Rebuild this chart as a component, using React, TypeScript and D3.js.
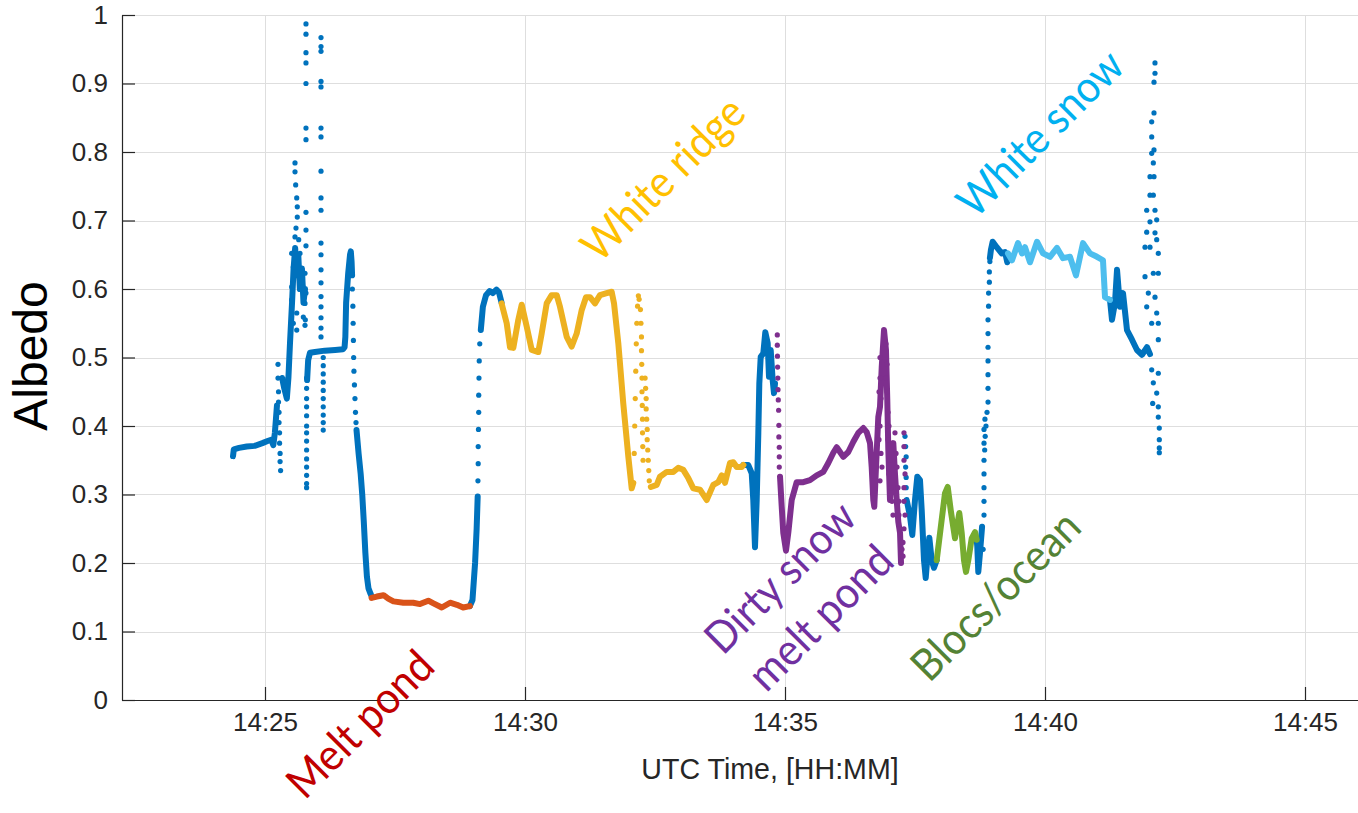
import { useEffect, useRef } from 'react'
import * as d3 from 'd3'

// ─── Types ────────────────────────────────────────────────────────────────────

// [minutes after 14:00 UTC, albedo]
type Pt = [number, number]

// ─── Layout ───────────────────────────────────────────────────────────────────

const WIDTH = 1358
const HEIGHT = 813
const PLOT = { left: 122, right: 1418, top: 15, bottom: 700 } // right edge runs past the crop
const X_DOMAIN: [number, number] = [22.25, 47.173]

const AXIS = '#262626'
const GRID = '#dedede'
const AXIS_FONT = '"Liberation Sans", Arial, Helvetica, sans-serif'
const NOTE_FONT = 'Lato, "Open Sans", sans-serif'

const C_BLUE = '#0072BD'
const C_ORANGE = '#D95319'
const C_YELLOW = '#EDB120'
const C_PURPLE = '#7E2F8E'
const C_GREEN = '#77AC30'
const C_LIGHT = '#4DBEEE'

// ─── Ticks ────────────────────────────────────────────────────────────────────

const timeTicks = [25, 30, 35, 40, 45]
const albedoTicks = [0, 0.1, 0.2, 0.3, 0.4, 0.5, 0.6, 0.7, 0.8, 0.9, 1]

// ─── Data: blue (unclassified) ────────────────────────────────────────────────

const blueTraces: Pt[][] = [
  [[24.385, 0.356], [24.40, 0.366], [24.50, 0.368], [24.65, 0.370], [24.80, 0.371], [24.95, 0.375],
   [25.05, 0.378], [25.12, 0.380], [25.16, 0.372], [25.19, 0.39], [25.21, 0.41], [25.23, 0.43]],
  [[25.33, 0.47], [25.37, 0.455], [25.42, 0.44], [25.45, 0.47], [25.48, 0.52], [25.52, 0.58],
   [25.55, 0.63], [25.58, 0.66], [25.61, 0.62], [25.64, 0.65], [25.67, 0.60], [25.71, 0.63],
   [25.74, 0.58], [25.77, 0.60]],
  [[25.81, 0.467], [25.83, 0.496], [25.865, 0.507], [25.96, 0.508], [26.15, 0.510], [26.35, 0.511],
   [26.50, 0.512], [26.53, 0.515], [26.545, 0.53], [26.56, 0.58], [26.60, 0.623], [26.635, 0.65],
   [26.65, 0.655], [26.665, 0.64], [26.675, 0.62]],
  [[26.76, 0.394], [26.80, 0.36], [26.84, 0.33], [26.87, 0.30], [26.90, 0.26], [26.93, 0.215],
   [26.96, 0.18], [26.99, 0.163], [27.03, 0.155], [27.06, 0.150]],
  [[28.94, 0.137], [28.99, 0.146], [29.04, 0.20], [29.07, 0.25], [29.09, 0.297]],
  [[29.15, 0.54], [29.19, 0.574], [29.25, 0.591], [29.32, 0.597], [29.38, 0.594], [29.45, 0.599],
   [29.50, 0.595], [29.55, 0.58]],
  [[34.198, 0.343], [34.294, 0.343], [34.36, 0.331], [34.39, 0.292], [34.423, 0.223], [34.456, 0.292],
   [34.487, 0.39], [34.506, 0.462], [34.533, 0.501], [34.583, 0.506], [34.621, 0.537], [34.667, 0.521],
   [34.692, 0.472], [34.725, 0.511], [34.763, 0.467], [34.788, 0.448], [34.808, 0.462]],
  [[37.34, 0.292], [37.404, 0.268], [37.448, 0.241], [37.5, 0.292], [37.544, 0.326], [37.596, 0.321],
   [37.629, 0.277], [37.673, 0.204], [37.706, 0.178], [37.744, 0.214], [37.775, 0.237], [37.821, 0.204],
   [37.865, 0.193], [37.917, 0.204]],
  [[38.687, 0.234], [38.698, 0.224], [38.717, 0.187], [38.75, 0.215], [38.79, 0.253]],
  [[38.94, 0.645], [38.96, 0.657], [38.994, 0.669], [39.071, 0.661], [39.167, 0.652], [39.231, 0.654],
   [39.275, 0.639], [39.313, 0.647]],
  [[41.25, 0.584], [41.288, 0.555], [41.346, 0.58], [41.385, 0.628], [41.442, 0.574], [41.5, 0.594],
   [41.577, 0.54], [41.673, 0.526], [41.769, 0.511], [41.865, 0.504], [41.962, 0.515], [42.019, 0.505]],
]

const blueDots: Pt[] = [
  // 14:25:15 column
  [25.25, 0.49], [25.25, 0.47], [25.26, 0.45], [25.26, 0.435], [25.27, 0.42], [25.27, 0.405],
  [25.28, 0.39], [25.28, 0.375], [25.29, 0.36], [25.29, 0.348], [25.30, 0.335],
  // scatter around first peak
  [25.577, 0.784], [25.577, 0.771], [25.59, 0.752], [25.61, 0.733], [25.621, 0.72], [25.621, 0.705],
  [25.596, 0.689], [25.577, 0.676], [25.648, 0.672], [25.513, 0.652], [25.673, 0.652], [25.544, 0.632],
  [25.706, 0.623], [25.769, 0.623], [25.513, 0.603], [25.731, 0.603], [25.788, 0.594], [25.769, 0.579],
  [25.513, 0.584], [25.61, 0.565], [25.737, 0.559], [25.544, 0.55], [25.769, 0.547], [25.61, 0.54],
  [25.775, 0.555],
  // spike column 1
  [25.788, 0.987], [25.788, 0.972], [25.788, 0.945], [25.788, 0.93], [25.788, 0.90], [25.788, 0.835],
  [25.788, 0.818], [25.788, 0.712], [25.788, 0.686], [25.788, 0.663],
  [25.80, 0.47], [25.80, 0.455], [25.80, 0.44], [25.80, 0.428], [25.80, 0.415], [25.80, 0.40],
  [25.80, 0.39], [25.80, 0.378], [25.80, 0.365], [25.80, 0.352], [25.80, 0.34], [25.80, 0.328],
  [25.80, 0.316], [25.80, 0.31],
  // spike column 2
  [26.077, 0.967], [26.077, 0.954], [26.077, 0.947], [26.077, 0.903], [26.077, 0.895], [26.077, 0.835],
  [26.077, 0.822], [26.077, 0.772], [26.077, 0.733], [26.077, 0.715], [26.077, 0.667], [26.077, 0.65],
  [26.077, 0.628], [26.077, 0.609], [26.077, 0.589], [26.077, 0.574], [26.077, 0.558], [26.077, 0.543],
  [26.077, 0.53],
  [26.12, 0.50], [26.12, 0.488], [26.12, 0.476], [26.12, 0.464], [26.12, 0.452], [26.12, 0.44],
  [26.12, 0.428], [26.12, 0.416], [26.12, 0.405], [26.12, 0.394],
  // fall after 14:26:40
  [26.68, 0.60], [26.69, 0.575], [26.695, 0.55], [26.70, 0.525], [26.705, 0.50], [26.71, 0.48],
  [26.72, 0.46], [26.73, 0.44], [26.74, 0.42], [26.75, 0.405],
  // rise at 14:29
  [29.095, 0.32], [29.10, 0.345], [29.10, 0.37], [29.105, 0.395], [29.11, 0.42], [29.11, 0.445],
  [29.115, 0.47], [29.12, 0.495], [29.13, 0.52],
  // column at 14:37:20
  [37.308, 0.385], [37.32, 0.37], [37.33, 0.355], [37.32, 0.34], [37.33, 0.325], [37.33, 0.31],
  // rise at 14:39
  [38.81, 0.22], [38.827, 0.27], [38.827, 0.29], [38.827, 0.31], [38.827, 0.33], [38.827, 0.35],
  [38.84, 0.365], [38.827, 0.375], [38.85, 0.385], [38.827, 0.395], [38.865, 0.40], [38.845, 0.41],
  [38.885, 0.42], [38.904, 0.435], [38.904, 0.455], [38.904, 0.475], [38.904, 0.495], [38.904, 0.515],
  [38.904, 0.535], [38.904, 0.555], [38.915, 0.575], [38.915, 0.594], [38.93, 0.61], [38.93, 0.625],
  [38.94, 0.64],
  // final column 14:42
  [42.115, 0.93], [42.115, 0.915], [42.096, 0.902], [42.096, 0.857], [42.052, 0.844], [42.052, 0.822],
  [42.096, 0.803], [42.052, 0.798], [42.083, 0.784], [42.019, 0.764], [42.096, 0.764], [42.019, 0.737],
  [42.083, 0.737], [41.956, 0.715], [42.115, 0.715], [42.019, 0.698], [42.148, 0.701], [41.956, 0.683],
  [42.115, 0.682], [42.148, 0.672], [41.923, 0.661], [42.019, 0.661], [42.179, 0.652], [41.923, 0.618],
  [42.083, 0.623], [42.179, 0.623], [41.987, 0.594], [42.115, 0.588], [41.956, 0.574], [42.148, 0.565],
  [42.052, 0.55], [42.179, 0.55], [42.179, 0.526], [42.052, 0.482], [42.179, 0.477], [42.083, 0.463],
  [42.148, 0.448], [42.071, 0.433], [42.179, 0.428], [42.179, 0.413], [42.198, 0.397], [42.198, 0.38],
  [42.198, 0.368], [42.198, 0.361],
]

// ─── Data: classified segments ────────────────────────────────────────────────

const meltPond: Pt[] = [
  [27.05, 0.149], [27.15, 0.151], [27.28, 0.153], [27.37, 0.148], [27.47, 0.144], [27.66, 0.142],
  [27.85, 0.142], [27.98, 0.140], [28.14, 0.145], [28.24, 0.141], [28.40, 0.135], [28.56, 0.142],
  [28.69, 0.139], [28.81, 0.135], [28.94, 0.137],
]

const whiteRidgeTraces: Pt[][] = [
  [[29.55, 0.579], [29.648, 0.55], [29.712, 0.515], [29.775, 0.514], [29.871, 0.555], [29.937, 0.577],
   [30.033, 0.545], [30.129, 0.511], [30.256, 0.508], [30.321, 0.535], [30.417, 0.579], [30.513, 0.591],
   [30.61, 0.591], [30.673, 0.574], [30.802, 0.53], [30.898, 0.516], [30.994, 0.535], [31.09, 0.569],
   [31.173, 0.588], [31.25, 0.588], [31.346, 0.579], [31.442, 0.591], [31.571, 0.594], [31.667, 0.596],
   [31.712, 0.579], [31.794, 0.521], [31.89, 0.433], [31.987, 0.355], [32.052, 0.309], [32.083, 0.317]],
  [[32.42, 0.311], [32.533, 0.314], [32.596, 0.326], [32.725, 0.333], [32.852, 0.333], [32.948, 0.339],
   [33.044, 0.336], [33.14, 0.324], [33.237, 0.309], [33.365, 0.307], [33.494, 0.292], [33.621, 0.314],
   [33.717, 0.318], [33.783, 0.328], [33.846, 0.317], [33.942, 0.346], [34.006, 0.347], [34.071, 0.34],
   [34.167, 0.34], [34.20, 0.343]],
]

const whiteRidgeDots: Pt[] = [
  [32.10, 0.36], [32.11, 0.40], [32.12, 0.44], [32.13, 0.48], [32.14, 0.52], [32.15, 0.55],
  [32.165, 0.575], [32.18, 0.59], [32.195, 0.585],
  [32.22, 0.57], [32.23, 0.55], [32.24, 0.53], [32.24, 0.51], [32.245, 0.49], [32.25, 0.47],
  [32.25, 0.45], [32.255, 0.43], [32.26, 0.41], [32.26, 0.39], [32.265, 0.37], [32.27, 0.35],
  [32.31, 0.47], [32.32, 0.455], [32.33, 0.44], [32.33, 0.425], [32.34, 0.41], [32.35, 0.395],
  [32.35, 0.38], [32.36, 0.365], [32.37, 0.35], [32.38, 0.335], [32.39, 0.32],
]

const dirtySnow: Pt[] = [
  [34.904, 0.326], [34.937, 0.282], [34.967, 0.244], [35.019, 0.218], [35.063, 0.244], [35.129, 0.292],
  [35.225, 0.318], [35.352, 0.318], [35.481, 0.321], [35.61, 0.328], [35.737, 0.333], [35.833, 0.346],
  [35.929, 0.361], [35.994, 0.369], [36.058, 0.362], [36.121, 0.355], [36.217, 0.362], [36.314, 0.377],
  [36.41, 0.39], [36.506, 0.397], [36.571, 0.391], [36.635, 0.375], [36.667, 0.34], [36.698, 0.292],
  [36.717, 0.282], [36.75, 0.34], [36.794, 0.413], [36.827, 0.428], [36.86, 0.486], [36.904, 0.54],
  [36.942, 0.511], [36.967, 0.438], [36.987, 0.365], [37.019, 0.292], [37.048, 0.33], [37.083, 0.375],
  [37.115, 0.33], [37.148, 0.292], [37.179, 0.26], [37.212, 0.244], [37.231, 0.2],
]

const dirtySnowDots: Pt[] = [
  [34.852, 0.533], [34.852, 0.518], [34.855, 0.502], [34.858, 0.486], [34.862, 0.47], [34.865, 0.453],
  [34.871, 0.438], [34.877, 0.423], [34.882, 0.401], [34.882, 0.384], [34.89, 0.369], [34.89, 0.355],
  [34.89, 0.34],
  [36.827, 0.50], [36.827, 0.47], [36.808, 0.45], [36.846, 0.44], [36.827, 0.40], [36.808, 0.38],
  [36.846, 0.36], [36.865, 0.34], [36.827, 0.32], [36.942, 0.52], [36.962, 0.49], [36.942, 0.47],
  [36.962, 0.45], [36.981, 0.42], [37.0, 0.40], [36.981, 0.38], [37.019, 0.35], [37.0, 0.33],
  [37.038, 0.31], [37.058, 0.29], [37.077, 0.27], [37.115, 0.39], [37.135, 0.36], [37.154, 0.34],
  [37.173, 0.31], [37.192, 0.29], [37.192, 0.27], [37.212, 0.25], [37.25, 0.22], [37.269, 0.21],
  [37.288, 0.39], [37.288, 0.37], [37.288, 0.35], [37.308, 0.33], [37.288, 0.31], [37.288, 0.29],
  [37.308, 0.27], [37.288, 0.25], [37.269, 0.23],
]

const blocsOcean: Pt[] = [
  [37.917, 0.204], [38.013, 0.263], [38.077, 0.302], [38.129, 0.311], [38.187, 0.277], [38.269, 0.236],
  [38.352, 0.273], [38.398, 0.244], [38.442, 0.204], [38.481, 0.187], [38.525, 0.204], [38.59, 0.236],
  [38.654, 0.245], [38.687, 0.234],
]

const whiteSnow: Pt[] = [
  [39.288, 0.652], [39.365, 0.642], [39.481, 0.667], [39.558, 0.652], [39.615, 0.661], [39.712, 0.639],
  [39.846, 0.669], [39.962, 0.652], [40.096, 0.647], [40.231, 0.66], [40.346, 0.645], [40.481, 0.647],
  [40.596, 0.62], [40.673, 0.647], [40.731, 0.667], [40.865, 0.652], [41.0, 0.647], [41.115, 0.642],
  [41.154, 0.588], [41.25, 0.584],
]

// ─── Annotations (centre in data units, length of the line in px) ─────────────

const notes = [
  { lines: ['Melt pond'], t: 26.904, a: -0.041, len: [187], color: '#C00000', dy: 0.22 },
  { lines: ['White ridge'], t: 32.731, a: 0.755, len: [210], color: '#FFC000', dy: 0.22 },
  { lines: ['White snow'], t: 39.923, a: 0.826, len: [214], color: '#00B0F0', dy: 0.32 },
  { lines: ['Dirty snow', 'melt pond'], t: 35.34, a: 0.146, len: [192, 184], color: '#7030A0', dy: 0.27 },
  { lines: ['Blocs/ocean'], t: 39.077, a: 0.150, len: [218], color: '#548235', dy: 0.3 },
]

// ─── App ──────────────────────────────────────────────────────────────────────

export default function App() {
  const svgRef = useRef<SVGSVGElement>(null)

  useEffect(() => {
    if (!svgRef.current) return
    const svg = d3.select(svgRef.current)
    svg.selectAll('*').remove()

    const x = d3.scaleLinear().domain(X_DOMAIN).range([PLOT.left, PLOT.right])
    const y = d3.scaleLinear().domain([0, 1]).range([PLOT.bottom, PLOT.top])

    // Grid
    const grid = svg.append('g').attr('stroke', GRID).attr('stroke-width', 1)
    grid.selectAll('line.h').data(albedoTicks.slice(1)).join('line')
      .attr('x1', PLOT.left).attr('x2', PLOT.right)
      .attr('y1', (d) => Math.round(y(d)) + 0.5).attr('y2', (d) => Math.round(y(d)) + 0.5)
    grid.selectAll('line.v').data(timeTicks).join('line')
      .attr('x1', (d) => Math.round(x(d)) + 0.5).attr('x2', (d) => Math.round(x(d)) + 0.5)
      .attr('y1', PLOT.top).attr('y2', PLOT.bottom)

    // Series: dense stretches as thick traces, sparse jumps as single dots
    const line = d3.line<Pt>().x((d) => x(d[0])).y((d) => y(d[1]))
    const drawSeries = (traces: Pt[][], dots: Pt[], color: string) => {
      const gs = svg.append('g')
      gs.selectAll('path').data(traces).join('path')
        .attr('d', line)
        .attr('fill', 'none')
        .attr('stroke', color)
        .attr('stroke-width', 6)
        .attr('stroke-linejoin', 'round')
        .attr('stroke-linecap', 'round')
      gs.selectAll('circle').data(dots).join('circle')
        .attr('cx', (d) => x(d[0])).attr('cy', (d) => y(d[1]))
        .attr('r', 2.6).attr('fill', color)
    }
    drawSeries(blueTraces, blueDots, C_BLUE)
    drawSeries([meltPond], [], C_ORANGE)
    drawSeries(whiteRidgeTraces, whiteRidgeDots, C_YELLOW)
    drawSeries([dirtySnow], dirtySnowDots, C_PURPLE)
    drawSeries([blocsOcean], [], C_GREEN)
    drawSeries([whiteSnow], [], C_LIGHT)

    // Axes
    const styleAxis = (gg: d3.Selection<SVGGElement, unknown, null, undefined>) => {
      gg.attr('font-family', AXIS_FONT).attr('font-size', 26)
      gg.select('.domain').attr('stroke', AXIS).attr('stroke-width', 1.2)
      gg.selectAll('.tick line').attr('stroke', AXIS).attr('stroke-width', 1.2)
      gg.selectAll('.tick text').attr('fill', AXIS)
    }

    svg.append('g')
      .attr('transform', `translate(${PLOT.left},0)`)
      .call(d3.axisLeft(y).tickValues(albedoTicks).tickSize(-13).tickSizeOuter(0).tickPadding(14)
        .tickFormat((d) => String(d)))
      .call(styleAxis)

    svg.append('g')
      .attr('transform', `translate(0,${PLOT.bottom})`)
      .call(d3.axisBottom(x).tickValues(timeTicks).tickSize(-13).tickSizeOuter(0).tickPadding(13)
        .tickFormat((d) => `14:${d}`))
      .call(styleAxis)

    // Axis titles
    svg.append('text')
      .attr('transform', `translate(47,356) rotate(-90)`)
      .attr('text-anchor', 'middle')
      .attr('font-family', AXIS_FONT).attr('font-size', 48).attr('fill', '#000')
      .text('Albedo')

    svg.append('text')
      .attr('x', 770).attr('y', 779)
      .attr('text-anchor', 'middle')
      .attr('font-family', AXIS_FONT).attr('font-size', 28.6).attr('fill', AXIS)
      .text('UTC Time, [HH:MM]')

    // Annotations
    notes.forEach((n) => {
      const gn = svg.append('g')
        .attr('transform', `translate(${x(n.t)},${y(n.a)}) rotate(-45)`)
      const lh = 57
      const off = ((n.lines.length - 1) * lh) / 2
      n.lines.forEach((txt, i) => {
        gn.append('text')
          .attr('x', 0).attr('y', i * lh - off)
          .attr('dy', `${n.dy}em`)
          .attr('text-anchor', 'middle')
          .attr('font-family', NOTE_FONT).attr('font-size', 44)
          .attr('textLength', n.len[i]).attr('lengthAdjust', 'spacingAndGlyphs')
          .attr('fill', n.color)
          .text(txt)
      })
    })
  }, [])

  return (
    <svg
      ref={svgRef}
      width={WIDTH}
      height={HEIGHT}
      style={{ position: 'absolute', left: 0, top: 0, display: 'block', background: '#fff' }}
    />
  )
}
